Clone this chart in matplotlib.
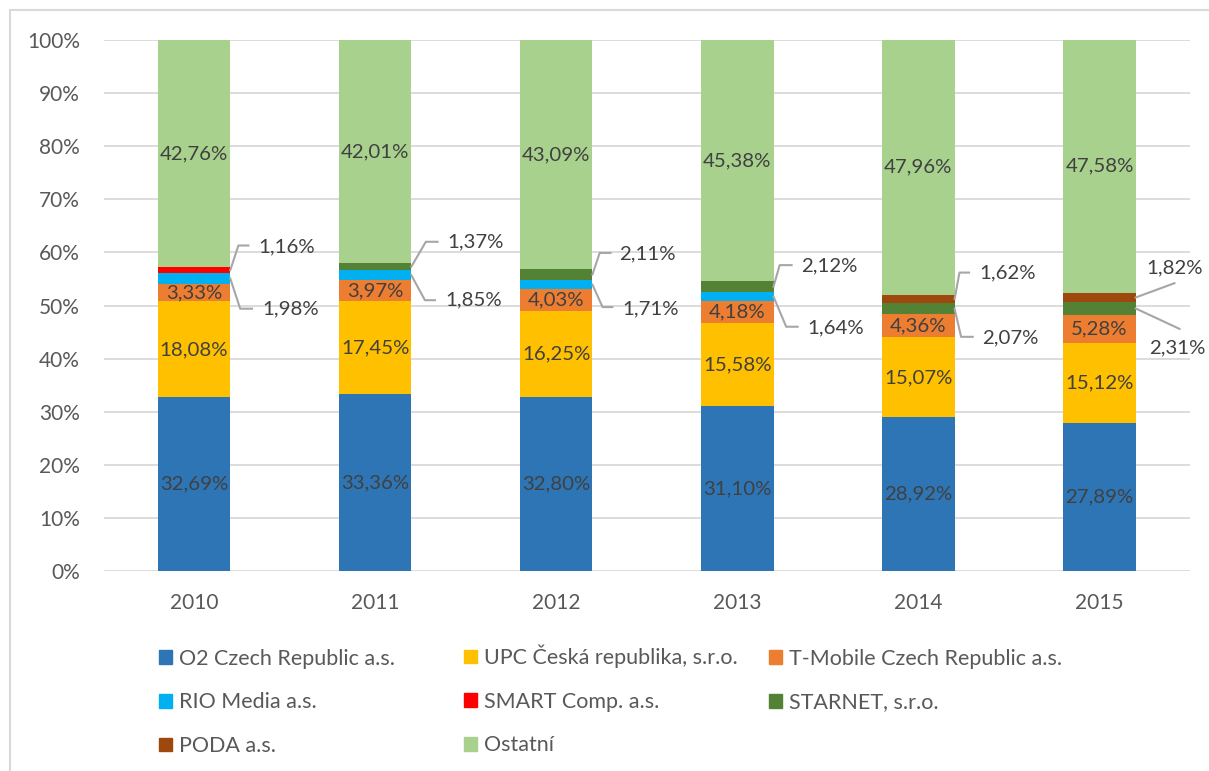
import numpy as np
import matplotlib
matplotlib.use("Agg")
import matplotlib.pyplot as plt
from matplotlib.patches import Patch, Rectangle

YEARS = ["2010", "2011", "2012", "2013", "2014", "2015"]
SERIES = [
    "O2 Czech Republic a.s.",
    "UPC Česká republika, s.r.o.",
    "T-Mobile Czech Republic a.s.",
    "RIO Media a.s.",
    "SMART Comp. a.s.",
    "STARNET, s.r.o.",
    "PODA a.s.",
    "Ostatní",
]
O2 = [32.69, 33.36, 32.80, 31.10, 28.92, 27.89]
UPC = [18.08, 17.45, 16.25, 15.58, 15.07, 15.12]
TMOBILE = [3.33, 3.97, 4.03, 4.18, 4.36, 5.28]
RIO = [1.98, 1.85, 1.71, 1.64, 0.0, 0.0]
SMART = [1.16, 0.0, 0.0, 0.0, 0.0, 0.0]
STARNET = [0.0, 1.37, 2.11, 2.12, 2.07, 2.31]
PODA = [0.0, 0.0, 0.0, 0.0, 1.62, 1.82]
OSTATNI = [42.76, 42.01, 43.09, 45.38, 47.96, 47.58]

COLORS = ["#2e75b6", "#ffc000", "#ed7d31", "#00b0f0",
          "#ff0000", "#548235", "#9e480e", "#a9d18e"]
INSIDE = [0, 1, 2, 7]  # series labelled inside the bars

# callouts: year index, series index, text (dx, y), elbow dx, line end (dx, y)
CALLOUTS = [
    (0, 4, (0.354, 61.1), 0.245, (0.30, 61.3)),
    (0, 3, (0.376, 49.4), 0.255, (0.32, 49.4)),
    (1, 5, (0.400, 62.0), 0.280, (0.345, 62.0)),
    (1, 3, (0.390, 51.0), 0.275, (0.330, 51.0)),
    (2, 5, (0.350, 59.7), 0.240, (0.300, 59.9)),
    (2, 3, (0.367, 49.4), 0.256, (0.310, 49.7)),
    (3, 5, (0.355, 57.4), 0.234, (0.300, 57.6)),
    (3, 3, (0.387, 45.8), 0.270, (0.333, 46.0)),
    (4, 6, (0.337, 56.1), 0.227, (0.280, 56.2)),
    (4, 5, (0.354, 43.9), 0.236, (0.300, 44.1)),
    (5, 6, (0.260, 57.1), None, (0.414, 54.2)),
    (5, 5, (0.276, 42.0), None, (0.442, 45.6)),
]

plt.rcParams["font.family"] = ["Lato", "DejaVu Sans"]
TXT = "#595959"
LBL = "#404040"

data = np.array([O2, UPC, TMOBILE, RIO, SMART, STARNET, PODA, OSTATNI])
x = np.arange(len(YEARS))
width = 0.4

fig = plt.figure(figsize=(12.09, 7.71), dpi=100)
ax = fig.add_axes([103.5 / 1209, 1 - 571 / 771, (1190 - 103.5) / 1209, 531 / 771])

bottom = np.zeros(len(YEARS))
for k, name in enumerate(SERIES):
    ax.bar(x, data[k], width, bottom=bottom, color=COLORS[k], label=name,
           zorder=3, linewidth=0)
    if k in INSIDE:
        for i in range(len(YEARS)):
            ax.text(x[i], bottom[i] + data[k][i] / 2,
                    "{:.2f}%".format(data[k][i]).replace(".", ","),
                    ha="center", va="center", fontsize=14.7, color=LBL, zorder=4)
    bottom = bottom + data[k]

cum = np.cumsum(data, axis=0)
for i, k, (tdx, ty), elbow, (edx, ey) in CALLOUTS:
    mid = cum[k][i] - data[k][i] / 2
    if elbow is None:
        xs = [x[i] + width / 2, x[i] + edx]
        ys = [mid, ey]
    else:
        xs = [x[i] + width / 2, x[i] + elbow, x[i] + edx]
        ys = [mid, ey, ey]
    ax.plot(xs, ys, color="#a6a6a6", lw=1.5, zorder=4, clip_on=False)
    ax.text(x[i] + tdx, ty, "{:.2f}%".format(data[k][i]).replace(".", ","),
            ha="left", va="center", fontsize=14.7, color=LBL, clip_on=False)

ax.set_xlim(-0.5, len(YEARS) - 0.5)
ax.set_ylim(0, 100)
ax.set_yticks(np.arange(0, 101, 10))
ax.set_yticklabels(["{}%".format(v) for v in range(0, 101, 10)])
ax.set_xticks(x)
ax.set_xticklabels(YEARS)
ax.tick_params(length=0, labelsize=15, labelcolor=TXT)
ax.tick_params(axis="y", pad=17)
ax.tick_params(axis="x", pad=16)
ax.grid(axis="y", color="#d9d9d9", lw=1.3, zorder=0)
for s in ax.spines.values():
    s.set_visible(False)

# legend, row-major in three fixed columns
col_x = [150 / 1209, 455 / 1209, 760 / 1209]
col_y = [640, 636, 640]
for c in range(3):
    idx = [k for k in range(len(SERIES)) if k % 3 == c]
    handles = [Patch(color=COLORS[k]) for k in idx]
    fig.legend(handles, [SERIES[k] for k in idx], loc="upper left",
               bbox_to_anchor=(col_x[c], 1 - col_y[c] / 771), frameon=False,
               fontsize=15.5, labelcolor=TXT, handlelength=0.6,
               handleheight=0.6, handletextpad=0.35, labelspacing=1.1,
               borderaxespad=0)

fig.patches.append(Rectangle((10 / 1209, -0.05), 1.2, 1 - 10 / 771 + 0.05,
                             transform=fig.transFigure, fill=False,
                             edgecolor="#d9d9d9", lw=1.5))

plt.savefig("out.png", dpi=100)
